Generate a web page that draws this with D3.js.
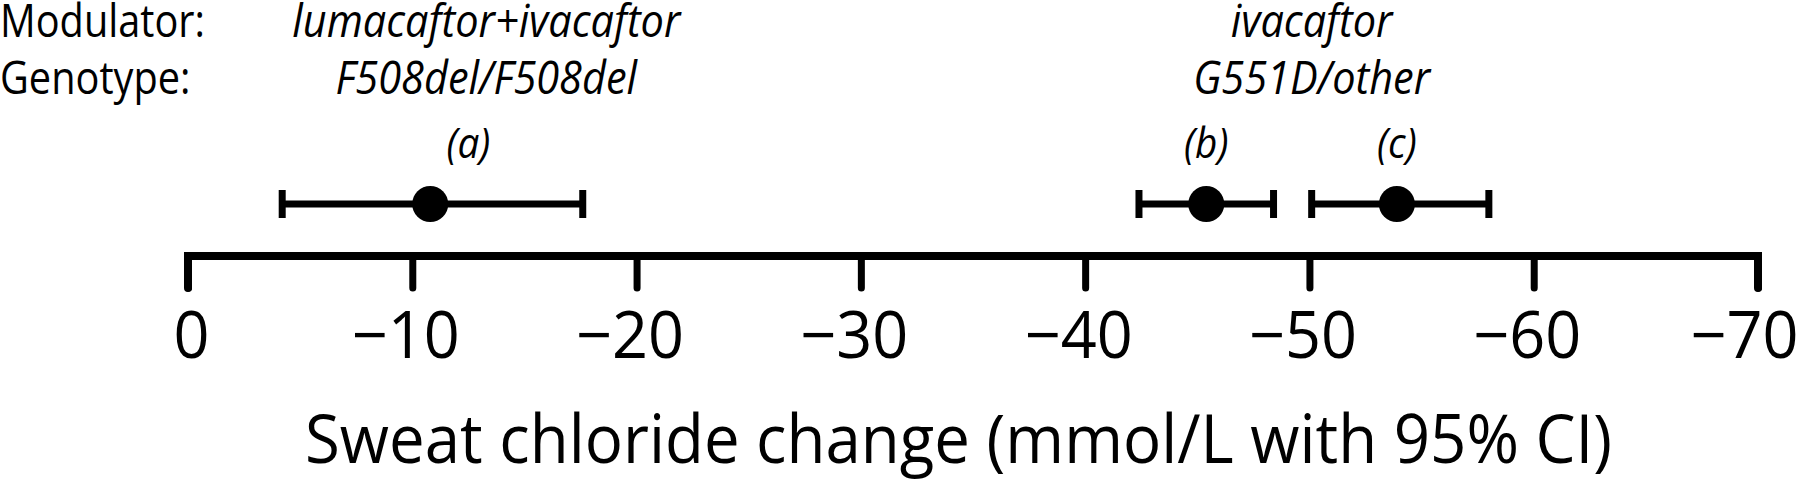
<!DOCTYPE html>
<html>
<head>
<meta charset="utf-8">
<script src="https://cdn.jsdelivr.net/npm/d3@7"></script>
<style>
  html, body { margin: 0; padding: 0; background: #fff; }
  svg { display: block; }
  text { font-family: "Open Sans", "Noto Sans", sans-serif; fill: #000; }
</style>
</head>
<body>
<svg id="chart" width="1800" height="481"></svg>
<script>
// ---- data ----
const studies = ["(a)", "(b)", "(c)"];
const estimates = [-10.8, -45.4, -53.9];
const ciLower = [-4.2, -42.4, -50.1];
const ciUpper = [-17.6, -48.4, -58.0];
const studyLabelX = [-12.5, -45.4, -53.9];
const modulators = ["lumacaftor+ivacaftor", "ivacaftor"];
const genotypes = ["F508del/F508del", "G551D/other"];
const groupLabelX = [-13.3, -50.1];
const rowLabels = ["Modulator:", "Genotype:"];
const tickValues = [0, -10, -20, -30, -40, -50, -60, -70];
const axisTitle = "Sweat chloride change (mmol/L with 95% CI)";

// ---- layout ----
const W = 1800;
const svg = d3.select("#chart");
const x = d3.scaleLinear().domain([0, -70]).range([188, 1758]);
const axisY = 256;
const pointY = 204;

// horizontal condensing helper (reference font is narrower than Open Sans)
function measure(str, size, italic) {
  const t = svg.append("text").attr("font-size", size)
    .attr("font-style", italic ? "italic" : "normal").text(str);
  const w = t.node().getComputedTextLength();
  t.remove();
  return w;
}
function condense(sel, factor) {
  sel.each(function () {
    const w = this.getComputedTextLength();
    d3.select(this).attr("textLength", w * factor).attr("lengthAdjust", "spacingAndGlyphs");
  });
}
const fTitle = 1307 / measure(axisTitle, 67, false);
const fTick = 108 / measure("\u221210", 65, false);
const fHead = 205 / measure("Modulator:", 45, false);
const fItal = 388 / measure("lumacaftor+ivacaftor", 45, true);

// axis
const axis = d3.axisBottom(x)
  .tickValues(tickValues)
  .tickSize(32)
  .tickPadding(24)
  .tickFormat(d => d === 0 ? "0" : "\u2212" + Math.abs(d));
const gAxis = svg.append("g").attr("transform", `translate(0,${axisY})`).call(axis);
gAxis.select(".domain")
  .attr("d", `M${x(0)},32V0H${x(-70)}V32`)
  .attr("stroke", "#000").attr("stroke-width", 8)
  .attr("stroke-linecap", "round").attr("stroke-linejoin", "miter").attr("fill", "none");
gAxis.selectAll(".tick line")
  .attr("stroke", "#000").attr("stroke-width", 7).attr("stroke-linecap", "round");
gAxis.selectAll(".tick text")
  .attr("font-size", 65).attr("font-family", '"Open Sans", sans-serif')
  .attr("fill", "#000")
  .attr("dx", d => d === 0 ? 3 : -7)
  .call(condense, fTick);
// keep the last label inside the picture, as in the reference
gAxis.selectAll(".tick text").filter(d => d === tickValues[tickValues.length - 1])
  .attr("text-anchor", "end").attr("dx", 0).attr("x", W - 2 - x(tickValues[tickValues.length - 1]));

// axis title
svg.append("text")
  .attr("x", 305)
  .attr("y", 463)
  .attr("font-size", 67)
  .text(axisTitle)
  .call(condense, fTitle);

// error bars
const rows = studies.map((s, i) => ({ s, est: estimates[i], lo: ciLower[i], hi: ciUpper[i], lx: studyLabelX[i] }));
const g = svg.append("g");
g.selectAll("line.ci").data(rows).join("line").attr("class", "ci")
  .attr("x1", d => x(d.lo)).attr("x2", d => x(d.hi))
  .attr("y1", pointY).attr("y2", pointY)
  .attr("stroke", "#000").attr("stroke-width", 7);
g.selectAll("line.capL").data(rows).join("line").attr("class", "capL")
  .attr("x1", d => x(d.lo)).attr("x2", d => x(d.lo))
  .attr("y1", pointY - 14).attr("y2", pointY + 14)
  .attr("stroke", "#000").attr("stroke-width", 7);
g.selectAll("line.capR").data(rows).join("line").attr("class", "capR")
  .attr("x1", d => x(d.hi)).attr("x2", d => x(d.hi))
  .attr("y1", pointY - 14).attr("y2", pointY + 14)
  .attr("stroke", "#000").attr("stroke-width", 7);
g.selectAll("circle").data(rows).join("circle")
  .attr("cx", d => x(d.est)).attr("cy", pointY).attr("r", 18).attr("fill", "#000");
g.selectAll("text.study").data(rows).join("text").attr("class", "study")
  .attr("x", d => x(d.lx)).attr("y", 158)
  .attr("text-anchor", "middle").attr("font-size", 42).attr("font-style", "italic")
  .text(d => d.s)
  .call(condense, fItal);

// header rows
svg.selectAll("text.row").data(rowLabels).join("text").attr("class", "row")
  .attr("x", 0).attr("y", (d, i) => 37 + i * 57)
  .attr("font-size", 45)
  .text(d => d)
  .call(condense, fHead);
svg.selectAll("text.mod").data(modulators).join("text").attr("class", "mod")
  .attr("x", (d, i) => x(groupLabelX[i])).attr("y", 37)
  .attr("text-anchor", "middle").attr("font-size", 45).attr("font-style", "italic")
  .text(d => d)
  .call(condense, fItal);
svg.selectAll("text.gen").data(genotypes).join("text").attr("class", "gen")
  .attr("x", (d, i) => x(groupLabelX[i])).attr("y", 94)
  .attr("text-anchor", "middle").attr("font-size", 45).attr("font-style", "italic")
  .text(d => d)
  .call(condense, fItal);
</script>
</body>
</html>
